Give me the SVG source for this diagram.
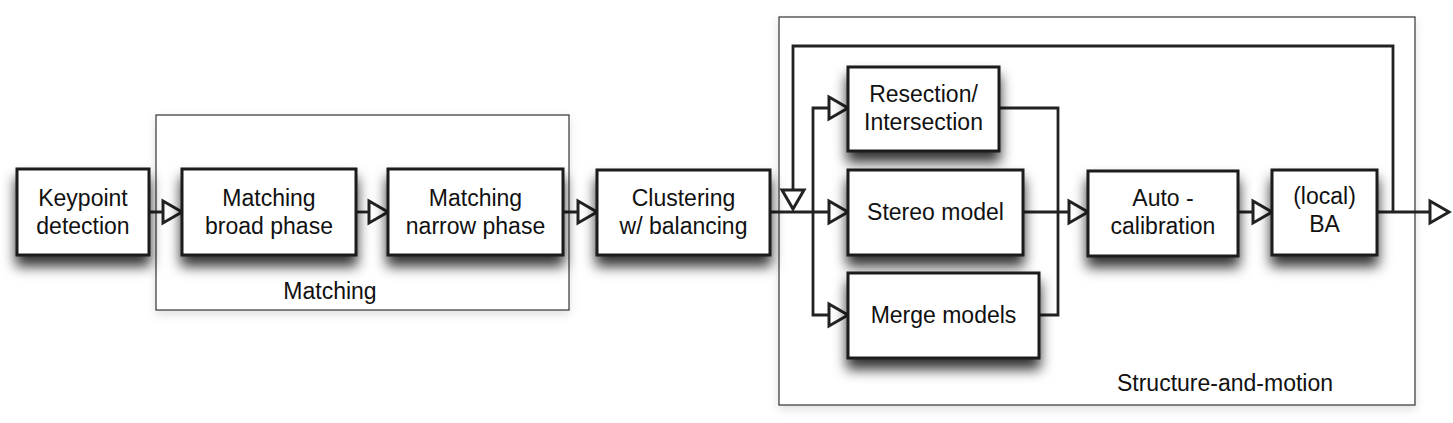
<svg xmlns="http://www.w3.org/2000/svg" width="1453" height="423" viewBox="0 0 1453 423">
<style>
.node rect{fill:#fff;stroke:#1a1a1a;stroke-width:3;filter:url(#sh)}
.grp{fill:#fff;stroke:#333;stroke-width:1.2;filter:url(#sh2)}
text{font-family:"Liberation Sans",Arial,sans-serif;font-size:23px;fill:#111;text-anchor:middle}
.conn path{fill:none;stroke:#222;stroke-width:2.8;marker-end:url(#ah)}
.conn path.plain{marker-end:none}
</style>
<defs>
<filter id="sh" x="-20%" y="-20%" width="140%" height="180%">
<feDropShadow dx="0" dy="10" stdDeviation="6.5" flood-color="#000" flood-opacity="0.8"/>
</filter>
<filter id="sh2" x="-10%" y="-10%" width="120%" height="130%">
<feDropShadow dx="0" dy="4" stdDeviation="5" flood-color="#000" flood-opacity="0.12"/>
</filter>
<marker id="ah" markerUnits="userSpaceOnUse" markerWidth="24" markerHeight="26" viewBox="-2 -2 24 26" refX="19" refY="11" orient="auto" overflow="visible">
<path d="M0,0 L19,11 L0,22 Z" fill="#fff" stroke="#222" stroke-width="3" stroke-linejoin="miter"/>
</marker>
</defs>
<rect width="1453" height="423" fill="#fff"/>
<g id="group-matching">
<rect class="grp" x="156" y="115" width="413" height="195"/>
<text x="330" y="299">Matching</text>
</g>
<g id="group-sfm">
<rect class="grp" x="779" y="17" width="636" height="388"/>
<text x="1225" y="391">Structure-and-motion</text>
</g>
<g class="conn" id="connectors">
<path d="M149,212 H182"/>
<path d="M356,212 H388"/>
<path d="M563,212 H597"/>
<path d="M770,212 H848"/>
<path d="M813,212 V108 H848"/>
<path d="M813,212 V315 H848"/>
<path class="plain" d="M999,108 H1058 V315 H1039"/>
<path d="M1023,212 H1088"/>
<path d="M1238,212 H1272"/>
<path d="M1377,212 H1449"/>
<path d="M1393,212 V46 H793 V209"/>
</g>
<g class="node" id="keypoint">
<rect x="17" y="169" width="132" height="86"/>
<text x="83" y="206">Keypoint</text>
<text x="83" y="234">detection</text>
</g>
<g class="node" id="broad">
<rect x="182" y="169" width="174" height="86"/>
<text x="269" y="206">Matching</text>
<text x="269" y="234">broad phase</text>
</g>
<g class="node" id="narrow">
<rect x="388" y="169" width="175" height="86"/>
<text x="475.5" y="206">Matching</text>
<text x="475.5" y="234">narrow phase</text>
</g>
<g class="node" id="clustering">
<rect x="597" y="170" width="173" height="85"/>
<text x="683.5" y="206">Clustering</text>
<text x="683.5" y="234">w/ balancing</text>
</g>
<g class="node" id="resection">
<rect x="848" y="67" width="151" height="84"/>
<text x="923.5" y="102">Resection/</text>
<text x="923.5" y="130">Intersection</text>
</g>
<g class="node" id="stereo">
<rect x="848" y="170" width="175" height="85"/>
<text x="935.5" y="220">Stereo model</text>
</g>
<g class="node" id="merge">
<rect x="848" y="273" width="191" height="85"/>
<text x="943.5" y="323">Merge models</text>
</g>
<g class="node" id="autocal">
<rect x="1088" y="171" width="150" height="85"/>
<text x="1163" y="206">Auto -</text>
<text x="1163" y="234">calibration</text>
</g>
<g class="node" id="ba">
<rect x="1272" y="170" width="105" height="85"/>
<text x="1324.5" y="204">(local)</text>
<text x="1324.5" y="232">BA</text>
</g>
</svg>
